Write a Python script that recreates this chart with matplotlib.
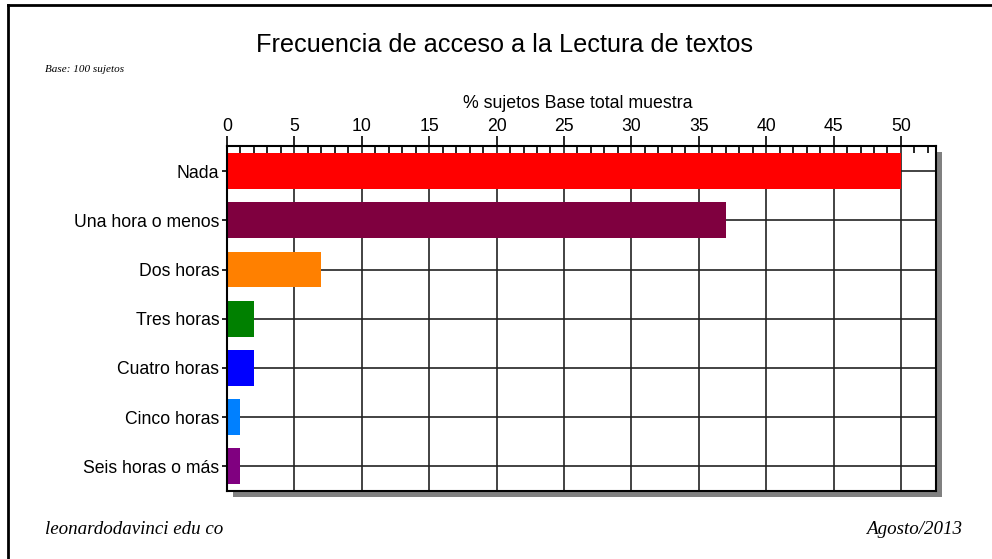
import matplotlib
matplotlib.use('Agg')
import matplotlib.pyplot as plt
from matplotlib.patches import Rectangle
from matplotlib.lines import Line2D
from matplotlib.ticker import MultipleLocator

# Data
categorias = ['Nada', 'Una hora o menos', 'Dos horas', 'Tres horas',
              'Cuatro horas', 'Cinco horas', 'Seis horas o más']
porcentajes = [50, 37, 7, 2, 2, 1, 1]
colores = ['#FF0000', '#7F003F', '#FF8000', '#008000', '#0000FF', '#0080FF', '#800080']

titulo = 'Frecuencia de acceso a la Lectura de textos'
eje_x = '% sujetos Base total muestra'

plt.rcParams['font.family'] = ['Liberation Sans', 'DejaVu Sans']

W, H = 992, 559
fig = plt.figure(figsize=(W / 100, H / 100), dpi=100)

# axes placement (pixels)
x0, x1, y0, y1 = 227, 936, 146, 491
ax = fig.add_axes([x0 / W, 1 - y1 / H, (x1 - x0) / W, (y1 - y0) / H])
ax.set_zorder(2)

# gray drop shadow behind axes
sh = 6
fig.patches.append(Rectangle(((x0 + sh) / W, 1 - (y1 + sh) / H), (x1 - x0) / W, (y1 - y0) / H,
                             transform=fig.transFigure, facecolor='#808080', edgecolor='none', zorder=0))

pos = list(range(len(categorias)))
ax.barh(pos, porcentajes, height=0.73, color=colores, zorder=1)

ax.set_xlim(0, 52.6)
ax.set_ylim(6.5, -0.51)
ax.set_yticks(pos)
ax.set_yticklabels(categorias, fontsize=12.7)

ax.xaxis.tick_top()
ax.xaxis.set_major_locator(MultipleLocator(5))
ax.xaxis.set_minor_locator(MultipleLocator(1))
ax.tick_params(axis='x', which='major', labelsize=12.7, length=7.2, width=1.2, direction='out', pad=0.6)
ax.tick_params(axis='x', which='minor', length=5, width=1.2, direction='in')
ax.tick_params(axis='y', length=3.6, width=1.2, direction='out', pad=2)

ax.grid(True, which='major', color='#222222', linewidth=1.2, zorder=0)
ax.set_axisbelow(True)
for s in ax.spines.values():
    s.set_linewidth(1.5)
    s.set_color('black')

# figure texts
fig.text(505 / W, 1 - 45 / H, titulo, fontsize=18.2, ha='center', va='center')
fig.text(578 / W, 1 - 103 / H, eje_x, fontsize=12.8, ha='center', va='center')
fig.text(45 / W, 1 - 70 / H, 'Base: 100 sujetos', fontsize=8, style='italic',
         family='Liberation Serif', ha='left', va='center')
fig.text(45 / W, 1 - 530 / H, 'leonardodavinci edu co', fontsize=13.7, style='italic',
         family='Liberation Serif', ha='left', va='center')
fig.text(962 / W, 1 - 530 / H, 'Agosto/2013', fontsize=13.7, style='italic',
         family='Liberation Serif', ha='right', va='center')

# page frame (left and top)
fig.add_artist(Line2D([8 / W, 8 / W], [0, 1 - 5 / H], transform=fig.transFigure, color='black', lw=2))
fig.add_artist(Line2D([8 / W, 1], [1 - 5 / H, 1 - 5 / H], transform=fig.transFigure, color='black', lw=2))

fig.savefig('out.png', dpi=100)
